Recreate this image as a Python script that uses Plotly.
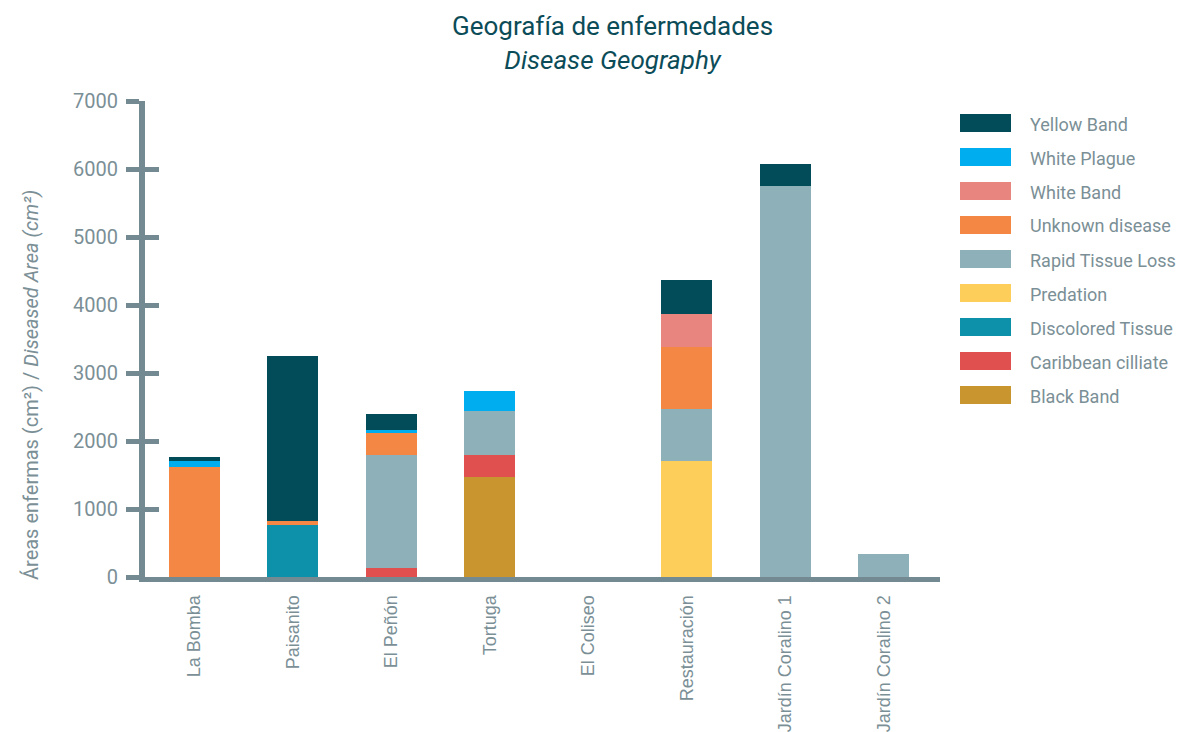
import plotly.graph_objects as go

# Sites along the x axis
sites = ["La Bomba", "Paisanito", "El Peñón", "Tortuga", "El Coliseo",
         "Restauración", "Jardín Coralino 1", "Jardín Coralino 2"]

# Diseased area per site (cm²), one list per disease
yellow_band       = [60, 2430, 245, 0, 0, 500, 325, 0]
white_plague      = [90, 0, 35, 295, 0, 0, 0, 0]
white_band        = [0, 0, 0, 0, 0, 495, 0, 0]
unknown_disease   = [1620, 60, 325, 0, 0, 905, 0, 0]
rapid_tissue_loss = [0, 0, 1665, 635, 0, 765, 5755, 340]
predation         = [0, 0, 0, 0, 0, 1710, 0, 0]
discolored_tissue = [0, 765, 0, 0, 0, 0, 0, 0]
caribbean_ciliate = [0, 0, 130, 325, 0, 0, 0, 0]
black_band        = [0, 0, 0, 1475, 0, 0, 0, 0]

# Legend order (top to bottom); bars stack in the reverse order
series = [
    ("Yellow Band", yellow_band, "#024b59"),
    ("White Plague", white_plague, "#00aeef"),
    ("White Band", white_band, "#e9857f"),
    ("Unknown disease", unknown_disease, "#f58744"),
    ("Rapid Tissue Loss", rapid_tissue_loss, "#8eb0b9"),
    ("Predation", predation, "#fece5a"),
    ("Discolored Tissue", discolored_tissue, "#0d91aa"),
    ("Caribbean cilliate", caribbean_ciliate, "#e0504f"),
    ("Black Band", black_band, "#c8952f"),
]

y_ticks = [0, 1000, 2000, 3000, 4000, 5000, 6000, 7000]

AXIS = "#738a92"
TEXT = "#7b8f96"
TITLE = "#0b4c58"
NARROW = "Roboto, Arial, sans-serif"

fig = go.Figure()
for name, vals, color in reversed(series):
    fig.add_trace(go.Bar(x=sites, y=vals, name=name,
                         marker=dict(color=color, line=dict(width=0)),
                         showlegend=False))

# empty trace so the inner tick axis is drawn
fig.add_trace(go.Scatter(x=sites, y=[None] * len(sites), yaxis="y2",
                         showlegend=False, hoverinfo="skip", mode="lines"))

# plot area in pixels
L, R, T, B = 145, 940, 101, 577
W, H = 1186, 732


def px_x(px):
    return (px - L) / (R - L)


def px_y(py):
    return (B - py) / (B - T)


# custom legend: wide swatches and labels
shapes = []
annotations = []
for i, (name, vals, color) in enumerate(series):
    cy = 123 + 34 * i
    shapes.append(dict(type="rect", xref="paper", yref="paper",
                       x0=px_x(960), x1=px_x(1011),
                       y0=px_y(cy + 9), y1=px_y(cy - 9),
                       fillcolor=color, line=dict(width=0)))
    annotations.append(dict(text=name, xref="paper", yref="paper",
                            x=px_x(1028), y=px_y(cy + 1), xanchor="left",
                            yanchor="middle", showarrow=False,
                            font=dict(family=NARROW, size=18, color=TEXT)))

annotations.append(dict(
    text="Geografía de enfermedades<br><i>Disease Geography</i>",
    xref="paper", yref="paper", x=px_x(612), y=px_y(9),
    xanchor="center", yanchor="top", showarrow=False,
    font=dict(family=NARROW, size=26, color=TITLE)))

annotations.append(dict(
    text="Áreas enfermas (cm²) / <i>Diseased Area (cm²)</i>",
    xref="paper", yref="paper", x=px_x(31), y=px_y(385),
    xanchor="center", yanchor="middle", textangle=-90, showarrow=False,
    font=dict(family=NARROW, size=20, color=TEXT)))

fig.update_layout(
    barmode="stack",
    bargap=0.48,
    width=W, height=H,
    margin=dict(l=L, r=W - R, t=T, b=H - B, autoexpand=False),
    paper_bgcolor="white",
    plot_bgcolor="white",
    shapes=shapes,
    annotations=annotations,
    xaxis=dict(
        type="category",
        range=[-0.5, 7.57],
        showline=True, linewidth=5, linecolor=AXIS,
        ticks="", showgrid=False, zeroline=False,
        tickangle=-90,
        tickfont=dict(family="Liberation Sans, Arial, sans-serif",
                      size=18, color=TEXT),
        ticklabelstandoff=6,
    ),
    yaxis=dict(
        range=[0, 7000],
        tickvals=y_ticks,
        showline=True, linewidth=6, linecolor=AXIS,
        ticks="outside", ticklen=13, tickwidth=5, tickcolor=AXIS,
        showgrid=False, zeroline=False,
        tickfont=dict(family=NARROW, size=20, color=TEXT),
        ticklabelstandoff=4,
    ),
    yaxis2=dict(
        overlaying="y", side="left",
        range=[0, 7000],
        tickvals=y_ticks,
        ticks="inside", ticklen=14, tickwidth=5, tickcolor=AXIS,
        showticklabels=False, showline=False,
        showgrid=False, zeroline=False,
    ),
)

fig.write_html("out.html")
